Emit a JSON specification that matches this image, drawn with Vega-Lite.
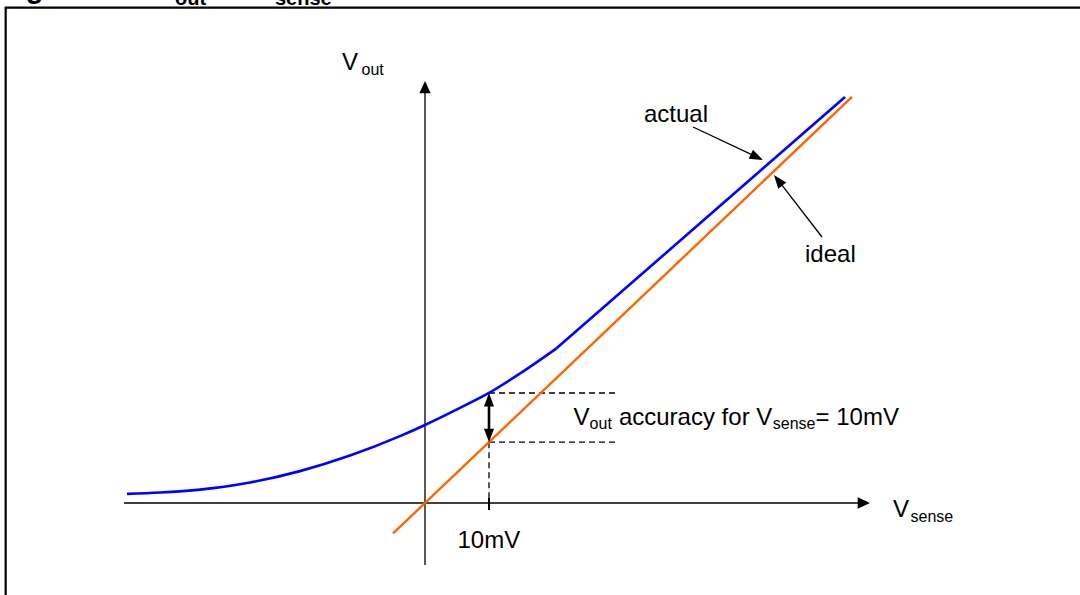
{
  "$schema": "https://vega.github.io/schema/vega-lite/v6.json",
  "width": 1080,
  "height": 595,
  "autosize": {"type": "none"},
  "padding": 0,
  "background": "white",
  "config": {"view": {"stroke": null}},
  "datasets": {
    "frame": [{"x": -65.52, "x2": 105.47, "y": 77.39, "y2": -16.72}],
    "segments": [
      {"kind": "axis", "x": -47.03, "y": 0, "x2": 67.66, "y2": 0},
      {"kind": "axis", "x": 0, "y": -9.69, "x2": 0, "y2": 64.06},
      {"kind": "axis", "x": 41.88, "y": 58.75, "x2": 51.97, "y2": 54.0},
      {"kind": "axis", "x": 62.03, "y": 41.56, "x2": 55.11, "y2": 50.52},
      {"kind": "tick", "x": 10, "y": 0.78, "x2": 10, "y2": -1.09},
      {"kind": "dash", "x": 10, "y": 17.19, "x2": 30, "y2": 17.19},
      {"kind": "dash", "x": 10, "y": 9.51, "x2": 30, "y2": 9.51},
      {"kind": "dash", "x": 10, "y": 9.51, "x2": 10, "y2": 0.78},
      {"kind": "double", "x": 10, "y": 16.2, "x2": 10, "y2": 10.5},
      {"kind": "ideal", "x": -5.0, "y": -4.755, "x2": 66.72, "y2": 63.45},
      {"kind": "actual", "x": 20.55, "y": 24.17, "x2": 65.63, "y2": 63.44}
    ],
    "actual": [
      {"x": -46.56, "y": 1.42},
      {"x": -41.41, "y": 1.63},
      {"x": -35.16, "y": 2.09},
      {"x": -27.34, "y": 3.2},
      {"x": -19.53, "y": 4.98},
      {"x": -11.72, "y": 7.41},
      {"x": -3.91, "y": 10.45},
      {"x": 0, "y": 12.19},
      {"x": 5.47, "y": 14.86},
      {"x": 10, "y": 17.19},
      {"x": 14.84, "y": 20.23},
      {"x": 20.55, "y": 24.17}
    ],
    "heads": [
      {"kind": "axis", "x": 69.53, "y": 0, "dir": 0},
      {"kind": "axis", "x": 0, "y": 65.94, "dir": -90},
      {"kind": "pointer", "x": 10, "y": 17.19, "dir": -90},
      {"kind": "pointer", "x": 10, "y": 9.51, "dir": 90},
      {"kind": "pointer", "x": 52.81, "y": 53.59, "dir": 25.2},
      {"kind": "pointer", "x": 54.53, "y": 51.25, "dir": 232.3}
    ],
    "labels": [
      {"role": "main", "text": "actual", "x": 34.22, "y": 59.58},
      {"role": "main", "text": "ideal", "x": 59.38, "y": 37.7},
      {"role": "main", "text": "10mV", "x": 5.08, "y": -7.03},
      {"role": "main", "text": "V", "x": 73.13, "y": -2.19},
      {"role": "sub", "text": "sense", "x": 75.86, "y": -2.92},
      {"role": "main", "text": "V", "x": -12.97, "y": 67.66},
      {"role": "sub", "text": "out", "x": -9.92, "y": 66.9},
      {"role": "main", "text": "V", "x": 23.22, "y": 12.19},
      {"role": "sub", "text": "out", "x": 25.72, "y": 11.56},
      {"role": "main", "text": "accuracy for V", "x": 30.3, "y": 12.19},
      {"role": "sub", "text": "sense", "x": 54.34, "y": 11.56},
      {"role": "main", "text": "= 10mV", "x": 61.02, "y": 12.19},
      {"role": "titleMain", "text": "Figure 10.", "x": -66.41, "y": 78.91},
      {"role": "titleMain", "text": "V", "x": -42.03, "y": 78.91},
      {"role": "titleSub", "text": "out", "x": -39.06, "y": 77.86},
      {"role": "titleMain", "text": "vs. V", "x": -33.13, "y": 78.91},
      {"role": "titleSub", "text": "sense", "x": -23.44, "y": 77.86}
    ]
  },
  "encoding": {
    "x": {"field": "x", "type": "quantitative", "scale": {"domain": [-66.40625, 102.34375], "nice": false, "zero": false}, "axis": null},
    "y": {"field": "y", "type": "quantitative", "scale": {"domain": [-14.375, 78.59375], "nice": false, "zero": false}, "axis": null}
  },
  "layer": [
    {
      "data": {"name": "frame"},
      "mark": {"type": "rect", "filled": false, "stroke": "black", "strokeWidth": 2.2},
      "encoding": {"x2": {"field": "x2"}, "y2": {"field": "y2"}}
    },
    {
      "data": {"name": "segments"},
      "transform": [{"filter": "datum.kind === 'axis'"}],
      "mark": {"type": "rule", "color": "black", "strokeWidth": 1.3},
      "encoding": {"x2": {"field": "x2"}, "y2": {"field": "y2"}}
    },
    {
      "data": {"name": "segments"},
      "transform": [{"filter": "datum.kind === 'tick'"}],
      "mark": {"type": "rule", "color": "black", "strokeWidth": 2},
      "encoding": {"x2": {"field": "x2"}, "y2": {"field": "y2"}}
    },
    {
      "data": {"name": "segments"},
      "transform": [{"filter": "datum.kind === 'dash'"}],
      "mark": {"type": "rule", "color": "black", "strokeWidth": 1.3, "strokeDash": [6, 4]},
      "encoding": {"x2": {"field": "x2"}, "y2": {"field": "y2"}}
    },
    {
      "data": {"name": "segments"},
      "transform": [{"filter": "datum.kind === 'double'"}],
      "mark": {"type": "rule", "color": "black", "strokeWidth": 2.6},
      "encoding": {"x2": {"field": "x2"}, "y2": {"field": "y2"}}
    },
    {
      "data": {"name": "segments"},
      "transform": [{"filter": "datum.kind === 'ideal'"}],
      "mark": {"type": "rule", "color": "#FF6600", "strokeWidth": 2.4},
      "encoding": {"x2": {"field": "x2"}, "y2": {"field": "y2"}}
    },
    {
      "data": {"name": "segments"},
      "transform": [{"filter": "datum.kind === 'actual'"}],
      "mark": {"type": "rule", "color": "#0000FF", "strokeWidth": 2.6},
      "encoding": {"x2": {"field": "x2"}, "y2": {"field": "y2"}}
    },
    {
      "data": {"name": "actual"},
      "mark": {"type": "line", "color": "#0000FF", "strokeWidth": 2.6, "interpolate": "monotone"},
      "encoding": {}
    },
    {
      "data": {"name": "heads"},
      "transform": [{"filter": "datum.kind === 'axis'"}],
      "mark": {"type": "point", "filled": true, "color": "black", "opacity": 1, "shape": "M0,0L-2,-0.93L-2,0.93Z", "size": 151, "strokeWidth": 0},
      "encoding": {"angle": {"field": "dir", "type": "quantitative", "scale": null}}
    },
    {
      "data": {"name": "heads"},
      "transform": [{"filter": "datum.kind === 'pointer'"}],
      "mark": {"type": "point", "filled": true, "color": "black", "opacity": 1, "shape": "M0,0L-2,-0.75L-2,0.75Z", "size": 180, "strokeWidth": 0},
      "encoding": {"angle": {"field": "dir", "type": "quantitative", "scale": null}}
    },
    {
      "data": {"name": "labels"},
      "transform": [{"filter": "datum.role === 'main'"}],
      "mark": {"type": "text", "font": "Liberation Sans", "fontSize": 24, "align": "left", "baseline": "alphabetic", "color": "black"},
      "encoding": {"text": {"field": "text"}}
    },
    {
      "data": {"name": "labels"},
      "transform": [{"filter": "datum.role === 'sub'"}],
      "mark": {"type": "text", "font": "Liberation Sans", "fontSize": 16, "align": "left", "baseline": "alphabetic", "color": "black"},
      "encoding": {"text": {"field": "text"}}
    },
    {
      "data": {"name": "labels"},
      "transform": [{"filter": "datum.role === 'titleMain'"}],
      "mark": {"type": "text", "font": "Liberation Sans", "fontWeight": "bold", "fontSize": 29, "align": "left", "baseline": "alphabetic", "color": "black"},
      "encoding": {"text": {"field": "text"}}
    },
    {
      "data": {"name": "labels"},
      "transform": [{"filter": "datum.role === 'titleSub'"}],
      "mark": {"type": "text", "font": "Liberation Sans", "fontWeight": "bold", "fontSize": 20, "align": "left", "baseline": "alphabetic", "color": "black"},
      "encoding": {"text": {"field": "text"}}
    }
  ]
}
